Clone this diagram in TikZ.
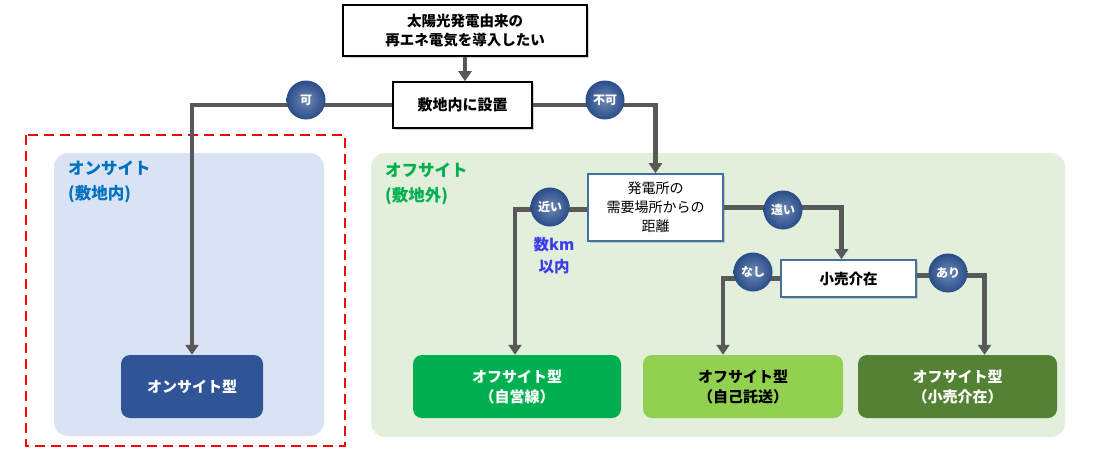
\documentclass[tikz,border=0pt]{standalone}
\usepackage{fontspec}
\setmainfont{Noto Sans CJK JP}
\usetikzlibrary{arrows.meta,shadows}
\definecolor{connc}{HTML}{595959}
\definecolor{ballc}{HTML}{2F5597}
\definecolor{onregion}{HTML}{DAE3F3}
\definecolor{offregion}{HTML}{E2EFDA}
\definecolor{ontitle}{HTML}{0070C0}
\definecolor{offtitle}{HTML}{00B050}
\definecolor{onbox}{HTML}{2F5597}
\definecolor{ownbox}{HTML}{00B050}
\definecolor{selfbox}{HTML}{92D050}
\definecolor{retbox}{HTML}{548235}
\definecolor{qborder}{HTML}{41719C}
\definecolor{kmblue}{RGB}{60,60,235}
\tikzset{
  conn/.style={draw=connc, line width=4.2pt, -{Triangle[width=13pt,length=10pt]}},
  qbox/.style={draw=black, line width=1.6pt, fill=white, align=center,
    font=\fontsize{14.5}{19.5}\selectfont\bfseries,
    drop shadow={shadow xshift=2pt, shadow yshift=-2pt, opacity=0.35}},
  qboxb/.style={qbox, draw=qborder},
  result/.style={rounded corners=9pt, align=center, minimum height=63pt,
    font=\fontsize{15}{20}\selectfont\bfseries},
  ball/.style={circle, minimum size=39pt, inner sep=0pt, text=white,
    font=\fontsize{12}{13}\selectfont\bfseries,
    shading=radial, inner color=ballc!70!white, outer color=ballc!90!black},
  regiontitle/.style={anchor=north west, align=left, inner sep=0pt,
    font=\fontsize{16.5}{25}\selectfont\bfseries}
}
\begin{document}
\begin{tikzpicture}[x=1pt,y=-1pt]
\useasboundingbox (0,0) rectangle (1100,452);
\fill[white] (0,0) rectangle (1100,452);
% regions
\fill[onregion, rounded corners=14pt] (54,153) rectangle (324,436);
\fill[offregion, rounded corners=14pt] (371,153) rectangle (1065,437);
\draw[red, line width=2.5pt, dash pattern=on 10pt off 6pt] (26,135) rectangle (345,446);
\node[regiontitle, text=ontitle] (ontitle) at (68,161) {オンサイト\\(敷地内)};
\node[regiontitle, text=offtitle] (offtitle) at (385,163) {オフサイト\\(敷地外)};
% question boxes
\node[qbox, minimum width=244pt, minimum height=51pt] (top) at (465,30.5) {太陽光発電由来の\\再エネ電気を導入したい};
\node[qbox, minimum width=139pt, minimum height=46pt, font=\fontsize{15}{20}\selectfont\bfseries] (site) at (462.5,105) {敷地内に設置};
\node[qboxb, minimum width=135pt, minimum height=67pt, font=\fontsize{14}{19}\selectfont] (dist) at (655.5,207.5) {発電所の\\需要場所からの\\距離};
\node[qboxb, minimum width=135pt, minimum height=37pt] (retail) at (848.5,278.5) {小売介在};
% results
\node[result, fill=onbox, text=white, minimum width=142pt] (onsite) at (192,386.5) {オンサイト型};
\node[result, fill=ownbox, text=white, minimum width=208pt] (own) at (517,386.5) {オフサイト型\\（自営線）};
\node[result, fill=selfbox, text=black, minimum width=200pt] (self) at (743,386.5) {オフサイト型\\（自己託送）};
\node[result, fill=retbox, text=white, minimum width=199pt] (rettype) at (957.5,386.5) {オフサイト型\\（小売介在）};
% connectors
\draw[conn] (top.south) -- (top.south |- site.north);
\draw[conn] (site.west) -| (onsite.north);
\draw[conn] (site.east) -| (dist.north);
\draw[conn] ([yshift=-2pt]dist.west) -| ([xshift=-2pt]own.north);
\draw[conn] (dist.east) -| ([xshift=-7pt]retail.north);
\draw[conn] (retail.west) -| ([xshift=-20pt]self.north);
\draw[conn] ([yshift=3pt]retail.east) -| ([xshift=27pt]rettype.north);
% balls
\node[ball] (b1) at (306,100) {可};
\node[ball] (b2) at (605,100) {不可};
\node[ball] (b3) at (550,207) {近い};
\node[ball] (b4) at (783,210) {遠い};
\node[ball] (b5) at (753,272) {なし};
\node[ball] (b6) at (948,273) {あり};
\node[align=center, text=kmblue, font=\fontsize{15.5}{22}\selectfont\bfseries, inner sep=0pt] (km) at (554,256) {数km\\以内};
\end{tikzpicture}
\end{document}
